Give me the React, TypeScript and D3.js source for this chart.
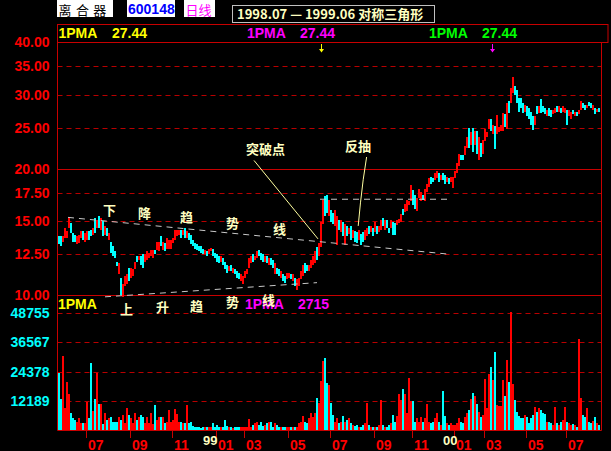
import React from 'react';
import * as d3 from 'd3';

// ---------- data ----------
const highs = [
  13.8, 13.8, 13.8, 14.45, 14.2, 15.3, 14.85, 14.05, 13.9, 13.8,
  13.9, 14.2, 14.2, 14.05, 14.2, 14.2, 14.3, 14.45, 15.25, 15.1,
  15.45, 15.25, 15.0, 14.6, 14.45, 14.05, 13.4, 13.05, 12.7, 12.0,
  11.9, 11.0, 10.6, 11.1, 11.2, 11.6, 11.6, 11.5, 12.0, 12.4,
  12.4, 12.4, 12.5, 12.5, 12.7, 12.6, 12.8, 12.8, 12.8, 13.4,
  13.4, 13.8, 13.4, 13.3, 13.65, 13.5, 13.5, 13.65, 14.3, 14.3,
  14.3, 14.3, 14.3, 14.45, 14.2, 14.05, 13.9, 13.5, 13.3, 13.2,
  13.05, 13.05, 12.9, 12.8, 12.7, 12.9, 12.95, 12.9, 12.6, 12.5,
  12.4, 12.4, 12.25, 12.0, 11.8, 11.7, 11.8, 11.6, 11.5, 11.4,
  11.3, 11.2, 11.1, 11.4, 11.5, 12.25, 12.4, 12.5, 12.4, 12.7,
  12.8, 12.6, 12.5, 12.4, 12.4, 12.25, 12.25, 12.1, 11.9, 11.6,
  11.5, 11.4, 11.2, 11.1, 11.3, 11.3, 11.2, 11.2, 11.0, 10.9,
  11.0, 11.4, 11.8, 11.9, 11.8, 11.8, 12.1, 12.4, 12.7, 13.0,
  13.3, 14.9, 16.8, 17.2, 17.25, 16.8, 15.9, 15.7, 15.9, 15.4,
  15.1, 15.1, 14.9, 14.75, 14.6, 14.45, 14.6, 14.3, 14.2, 14.1,
  14.3, 13.95, 14.1, 14.3, 14.45, 14.6, 14.6, 14.45, 14.9, 14.6,
  14.6, 15.1, 15.25, 15.1, 15.1, 14.45, 15.05, 14.9, 14.8, 15.05,
  15.2, 15.6, 16.0, 16.5, 16.85, 16.7, 18.3, 17.75, 17.3, 17.0,
  17.9, 17.6, 17.3, 17.9, 18.4, 18.95, 19.1, 18.95, 19.5, 19.7,
  19.5, 19.3, 19.5, 19.3, 19.1, 18.95, 19.1, 19.1, 19.7, 20.6,
  21.7, 21.5, 21.5, 22.6, 23.8, 25.0, 24.4, 25.0, 24.6, 24.6,
  23.8, 23.0, 23.4, 24.8, 24.4, 26.3, 26.3, 25.4, 25.2, 26.8,
  25.1, 25.4, 27.1, 26.9, 28.6, 28.9, 31.1, 33.1, 31.5, 30.8,
  29.5, 29.5, 28.6, 28.3, 28.1, 27.8, 27.3, 26.7, 26.7, 28.1,
  28.1, 29.2, 28.1, 27.8, 27.6, 27.8, 27.6, 27.6, 27.8, 28.2,
  28.1, 27.8, 28.1, 27.8, 27.6, 27.6, 27.3, 27.6, 27.3, 27.3,
  27.6, 29.0, 28.6, 28.3, 28.3, 28.8, 28.6, 28.3, 27.8, 27.7, 27.8,
];

const lows = [
  13.2, 13.1, 13.4, 13.65, 13.65, 14.45, 14.05, 13.4, 13.4, 13.2,
  13.3, 13.65, 13.5, 13.4, 13.5, 13.5, 13.8, 13.9, 14.05, 14.45,
  14.45, 14.3, 13.8, 13.9, 13.8, 13.5, 12.6, 12.4, 12.25, 11.7,
  11.2, 10.0, 9.9, 10.5, 10.6, 10.8, 11.0, 11.1, 11.5, 12.0,
  12.1, 11.8, 11.6, 12.0, 12.1, 12.25, 12.4, 12.25, 12.5, 12.8,
  12.7, 13.05, 12.8, 12.7, 12.9, 12.9, 12.85, 13.3, 13.5, 13.8,
  13.9, 13.65, 13.9, 13.65, 13.65, 13.5, 13.2, 13.05, 12.9, 12.8,
  12.7, 12.6, 12.5, 12.5, 12.4, 12.5, 12.7, 12.4, 12.25, 12.0,
  11.9, 12.0, 11.8, 11.5, 11.3, 11.4, 11.4, 11.3, 11.2, 11.0,
  10.9, 10.8, 10.6, 11.0, 11.2, 11.6, 11.9, 12.0, 12.1, 12.25,
  12.4, 12.1, 12.0, 12.0, 11.9, 11.8, 11.8, 11.6, 11.2, 11.2,
  11.1, 11.0, 10.8, 10.7, 10.9, 11.0, 10.9, 10.8, 10.5, 10.3,
  10.5, 10.9, 11.1, 11.3, 11.4, 11.4, 11.6, 11.8, 11.9, 12.1,
  12.4, 13.0, 14.75, 15.4, 15.7, 15.4, 14.9, 14.75, 14.6, 13.15,
  14.3, 14.1, 13.8, 13.15, 13.8, 13.95, 13.5, 13.65, 13.4, 13.3,
  13.5, 13.15, 13.4, 13.5, 13.8, 13.95, 14.1, 13.8, 14.1, 13.95,
  14.1, 14.3, 14.6, 14.3, 14.45, 14.05, 14.45, 13.9, 13.9, 14.7,
  14.8, 14.9, 15.5, 15.75, 15.85, 16.35, 16.7, 16.35, 16.0, 15.85,
  17.0, 16.7, 16.85, 16.7, 17.6, 18.1, 18.4, 18.6, 18.8, 18.95,
  18.6, 18.8, 18.8, 18.4, 18.6, 18.4, 18.6, 18.0, 18.95, 19.5,
  20.3, 20.95, 20.95, 21.5, 22.4, 22.4, 22.8, 21.9, 22.8, 21.7,
  20.95, 21.3, 21.7, 23.2, 23.8, 24.8, 24.6, 24.2, 22.2, 24.2,
  24.4, 24.6, 24.6, 25.1, 24.9, 27.1, 28.6, 30.3, 29.9, 28.6,
  27.3, 27.8, 27.1, 27.3, 26.7, 26.2, 25.4, 24.7, 25.4, 26.9,
  27.1, 27.1, 27.3, 26.9, 26.7, 26.7, 26.5, 26.9, 27.1, 27.3,
  27.3, 27.1, 27.3, 27.1, 25.4, 26.7, 26.2, 26.9, 26.7, 26.7,
  26.9, 27.6, 27.8, 27.6, 27.8, 28.1, 27.8, 27.6, 26.9, 27.2, 27.3,
];

// r = up day (red), c = down day (cyan)
const dayColors = (
  'ccrrrrcccr' + 'rrcrrccrcr' + 'crcrcrcccc' + 'rcrrrcrrrc' + 'rccrrrrrcr' +
  'rcrcrrrrrr' + 'rcrcrccccc' + 'cccrcrrccc' + 'crcccrcrcc' + 'crrrrrrcrr' +
  'cccrcrccrc' + 'crccrrcrcr' + 'rrrccrrrrc' + 'rrrccrccrr' + 'crcrcrcrcc' +
  'rccrrcrcrc' + 'rrcrccrccr' + 'rrcrrrrccr' + 'rrcrrrccrr' + 'crccrcrrrr' +
  'rccrrcrcrc' + 'rcrrrrcrcr' + 'rrrcrcrrcc' + 'cccrccccrc' + 'rcccrccrrc' +
  'rcrrcrrcrc' + 'rrccrccrcrc'
).split('');

const volumes = [
  24000, 13000, 31000, 9000, 20000, 15000, 7000, 5000, 4000, 3500,
  4900, 3000, 2800, 2800, 11800, 5000, 28000, 8000, 13000, 24000,
  11000, 11000, 2500, 7000, 4000, 4900, 5600, 3500, 3500, 3500,
  5600, 4200, 6300, 2800, 9000, 6300, 4900, 3000, 7000, 4000,
  5600, 6300, 5600, 3000, 5600, 3000, 7000, 2500, 10500, 4000,
  5600, 5600, 5600, 2800, 3500, 8400, 3500, 4200, 8800, 6700,
  3500, 3500, 2800, 2800, 10500, 2800, 3500, 1700, 1400, 1400,
  1400, 700, 1400, 1100, 1400, 1100, 1400, 3100, 1400, 2100,
  1400, 1100, 1400, 4200, 1700, 1100, 1400, 700, 1400, 1100,
  1400, 1100, 1100, 1400, 1100, 4600, 1400, 2100, 2800, 3500,
  2100, 3500, 1700, 2100, 2800, 3500, 3500, 1400, 2800, 2100,
  1400, 1400, 1100, 1400, 1100, 1100, 1400, 1400, 1400, 1400,
  2800, 3500, 5900, 3500, 2800, 4900, 7300, 5600, 7000, 13300,
  11200, 20400, 28800, 30200, 19700, 19000, 11200, 6300, 3500, 4900,
  2800, 3500, 5900, 3500, 4200, 4900, 2800, 2100, 1700, 2100,
  1400, 1400, 2100, 3100, 11200, 2100, 1400, 1400, 1400, 1100,
  2100, 12600, 2100, 1400, 1100, 2100, 2800, 6300, 3500, 5900,
  15200, 12600, 17100, 15200, 7000, 21800, 12200, 12200, 3500, 4900,
  3500, 5600, 3500, 4900, 11000, 3500, 2800, 3500, 4900, 7000,
  3500, 2100, 16200, 5900, 2800, 2100, 2800, 2100, 2100, 2800,
  4900, 3500, 3100, 5600, 7000, 8400, 12900, 15500, 14300, 11000,
  7700, 5600, 6300, 21100, 9100, 23200, 26300, 20800, 32600, 10500,
  10100, 10100, 20800, 14300, 29200, 20000, 49200, 19400, 12600, 7700,
  5900, 4900, 4900, 6300, 5600, 2800, 4900, 6300, 9500, 7700,
  9100, 8400, 7000, 6700, 3500, 3500, 2800, 2100, 9800, 2800,
  2100, 3500, 4200, 9500, 3500, 2800, 2100, 2500, 2100, 1400,
  37900, 13300, 6300, 5600, 9100, 3500, 3100, 3900, 5300, 2800, 2100,
];

const priceTicks = [40, 35, 30, 25, 20, 17.5, 15, 12.5, 10];
const solidPriceTicks = [40, 20, 10];
const volumeTicks = [48755, 36567, 24378, 12189];
const monthIdx = [14, 36, 57, 79, 93, 115, 136, 158, 177, 198, 213, 234, 254];
const monthLabels = ['07', '09', '11', '01', '03', '05', '07', '09', '11', '01', '03', '05', '07'];
const yearIdx = [72.5, 192.5];
const yearLabels = ['99', '00'];

// annotation geometry in data space (bar index, price)
const upperTrend = [[5, 15.3], [196, 12.5]];
const lowerTrend = [[23.5, 9.9], [129.5, 10.7]];
const pullbackLevel = [[131, 16.9], [194.5, 16.9]];
const breakoutPointer = [[98, 20.9], [130, 13.6]];
const pullbackPointer = [[154.3, 21.3], [152.6, 18.8], [150.1, 14.6]];
const arrowIdx = [131.25, 216.75];

const stockName = '离合器';
const stockCode = '600148';
const period = '日线';
const title = '1998.07 — 1999.06 对称三角形';
const maLabel = '1PMA';
const lastClose = '27.44';
const lastVolMA = '2715';

// ---------- style ----------
const RED = '#ff0000';
const CYAN = '#00ffff';
const GRID = '#b80000';
const FRAME = '#c80000';
const CREAM = '#ffffc0';
const FONT = "'Liberation Sans', Arial, sans-serif";
const CJK = "'Noto Sans CJK SC', 'Noto Sans CJK JP', sans-serif";

const W = 611;
const H = 451;
const L = 57.5;
const R = 601.5;
const HEAD_TOP = 24.5;
const PRICE_TOP = 42;
const PRICE_BOTTOM = 295;
const VOL_TOP = 313.3;
const VOL_BOTTOM = 430;

export default function App() {
  const N = highs.length;
  const x = d3.scaleLinear().domain([0, N]).range([58, 600]);
  const yP = d3.scaleLog().domain([10, 40]).range([PRICE_BOTTOM, PRICE_TOP]);
  const yV = d3.scaleLinear().domain([0, 48755]).range([VOL_BOTTOM, VOL_TOP]);
  const line = d3.line<number[]>().x((d) => x(d[0])).y((d) => yP(d[1]));
  const bw = x(1) - x(0);

  const cjkText = (t: string, px: number, py: number, key: string) => (
    <text key={key} x={px} y={py} fill={CREAM} fontFamily={CJK} fontSize={13} fontWeight="bold">{t}</text>
  );

  return (
    <div style={{ position: 'absolute', left: 0, top: 0, width: W, height: H, background: '#000' }}>
      <svg width={W} height={H} style={{ display: 'block' }}>
        <rect x={0} y={0} width={W} height={H} fill="#000" />

        {/* top header boxes */}
        <rect x={57} y={0} width={56} height={17} fill="#fff" />
        <text x={58.5} y={15} fontFamily={CJK} fontSize={13} letterSpacing={4.4} fill="#000">{stockName}</text>
        <rect x={127} y={0} width={48} height={17} fill="#fff" />
        <text x={128} y={13.5} fontFamily={FONT} fontSize={14} fontWeight="bold" fill="#0000ff">{stockCode}</text>
        <rect x={184} y={0} width={31} height={17} fill="#fff" />
        <text x={185.5} y={15} fontFamily={CJK} fontSize={13} fill="#ff00ff">{period}</text>
        <rect x={232.5} y={5.5} width={202} height={17} fill="#000" stroke="#c0c0c0" />
        <text x={237} y={19} fontFamily={CJK} fontSize={13} fontWeight="bold" fill={CREAM}>{title}</text>

        {/* header row of price panel */}
        <rect x={L} y={HEAD_TOP} width={608 - L} height={PRICE_TOP - HEAD_TOP + 0.5} fill="none" stroke={FRAME} />
        {[[58.5, 112, '#ffff00'], [247, 300, '#ff00ff'], [429, 482, '#00ff00']].map(([a, b, c], k) => (
          <g key={'ma' + k} fontFamily={FONT} fontSize={14} fontWeight="bold" fill={c as string}>
            <text x={a as number} y={37.5}>{maLabel}</text>
            <text x={b as number} y={37.5}>{lastClose}</text>
          </g>
        ))}

        {/* price grid */}
        {priceTicks.map((t) => (
          <line key={'pg' + t} x1={L} x2={R} y1={Math.round(yP(t)) + 0.5} y2={Math.round(yP(t)) + 0.5}
            stroke={solidPriceTicks.includes(t) ? FRAME : GRID}
            strokeDasharray={solidPriceTicks.includes(t) ? undefined : '5,4'} />
        ))}
        {priceTicks.map((t) => (
          <text key={'pl' + t} x={49.5} y={yP(t) + 5} textAnchor="end" fontFamily={FONT} fontSize={14}
            fontWeight="bold" fill={RED}>{t.toFixed(2)}</text>
        ))}

        {/* volume grid */}
        {volumeTicks.map((t) => (
          <line key={'vg' + t} x1={L} x2={R} y1={Math.round(yV(t)) + 0.5} y2={Math.round(yV(t)) + 0.5}
            stroke={GRID} strokeDasharray="5,4" />
        ))}
        {volumeTicks.map((t) => (
          <text key={'vl' + t} x={49.5} y={yV(t) + 5} textAnchor="end" fontFamily={FONT} fontSize={14}
            fontWeight="bold" fill={CYAN}>{t}</text>
        ))}

        {/* volume bars */}
        <g shapeRendering="crispEdges">
          {volumes.map((v, i) => (
            <rect key={'v' + i} x={x(i)} width={bw - 0.5} y={yV(v)} height={VOL_BOTTOM - yV(v)}
              fill={dayColors[i] === 'r' ? RED : CYAN} />
          ))}
        </g>

        {/* candles */}
        <g shapeRendering="crispEdges">
          {highs.map((h, i) => {
            const top = yP(h);
            const bot = yP(lows[i]);
            return (
              <rect key={'c' + i} x={x(i)} width={bw - 0.5} y={top} height={Math.max(1, bot - top)}
                fill={dayColors[i] === 'r' ? RED : CYAN} />
            );
          })}
        </g>

        {/* triangle annotation */}
        <g fill="none" stroke="#c8c8c8" strokeWidth={1} strokeDasharray="6,5">
          <path d={line(upperTrend as number[][]) || ''} />
          <path d={line(lowerTrend as number[][]) || ''} />
          <path d={line(pullbackLevel as number[][]) || ''} />
        </g>
        <g fill="none" stroke="#ffffa0" strokeWidth={1}>
          <path d={line(breakoutPointer as number[][]) || ''} />
          <path d={d3.line<number[]>().x((d) => x(d[0])).y((d) => yP(d[1])).curve(d3.curveMonotoneY)(pullbackPointer as number[][]) || ''} />
        </g>
        {cjkText('突破点', 246, 154, 'a1')}
        {cjkText('反抽', 345, 151, 'a2')}
        {cjkText('下', 103, 215, 'u1')}
        {cjkText('降', 138, 218, 'u2')}
        {cjkText('趋', 180, 222, 'u3')}
        {cjkText('势', 226, 228, 'u4')}
        {cjkText('线', 273, 234, 'u5')}

        {/* marker arrows */}
        {arrowIdx.map((a, k) => {
          const cx = Math.round(x(a)) + 0.5;
          const c = k === 0 ? '#ffff00' : '#ff00ff';
          return (
            <g key={'ar' + k}>
              <line x1={cx} x2={cx} y1={44} y2={50} stroke={c} />
              <path d={`M${cx - 2.5},49 L${cx + 2.5},49 L${cx},52.5 Z`} fill={c} />
            </g>
          );
        })}

        {/* volume header */}
        <text x={58} y={308.5} fontFamily={FONT} fontSize={14} fontWeight="bold" fill="#ffff00">{maLabel}</text>
        <text x={245} y={309} fontFamily={FONT} fontSize={14} fontWeight="bold" fill="#ff00ff">{maLabel}</text>
        <text x={298} y={309} fontFamily={FONT} fontSize={14} fontWeight="bold" fill="#ff00ff">{lastVolMA}</text>
        {cjkText('上', 120, 314, 'l1')}
        {cjkText('升', 156, 312, 'l2')}
        {cjkText('趋', 190, 311, 'l3')}
        {cjkText('势', 226, 307, 'l4')}
        {cjkText('线', 262, 305, 'l5')}

        {/* frame */}
        <g stroke={FRAME} fill="none">
          <line x1={L} x2={L} y1={HEAD_TOP} y2={VOL_BOTTOM + 0.5} />
          <line x1={R} x2={R} y1={PRICE_TOP} y2={VOL_BOTTOM + 0.5} />
          <line x1={L} x2={R} y1={VOL_BOTTOM + 0.5} y2={VOL_BOTTOM + 0.5} />
        </g>

        {/* x axis */}
        {monthIdx.map((m, k) => {
          const tx = Math.round(x(m)) + 0.5;
          return (
            <g key={'m' + k}>
              <line x1={tx} x2={tx} y1={VOL_BOTTOM} y2={438} stroke={FRAME} />
              <text x={tx + 1.5} y={449.5} fontFamily={FONT} fontSize={14} fontWeight="bold" fill={RED}>{monthLabels[k]}</text>
            </g>
          );
        })}
        {yearIdx.map((m, k) => (
          <text key={'yr' + k} x={x(m)} y={445} fontFamily={FONT} fontSize={13} fontWeight="bold" fill={CREAM}>{yearLabels[k]}</text>
        ))}
      </svg>
    </div>
  );
}
